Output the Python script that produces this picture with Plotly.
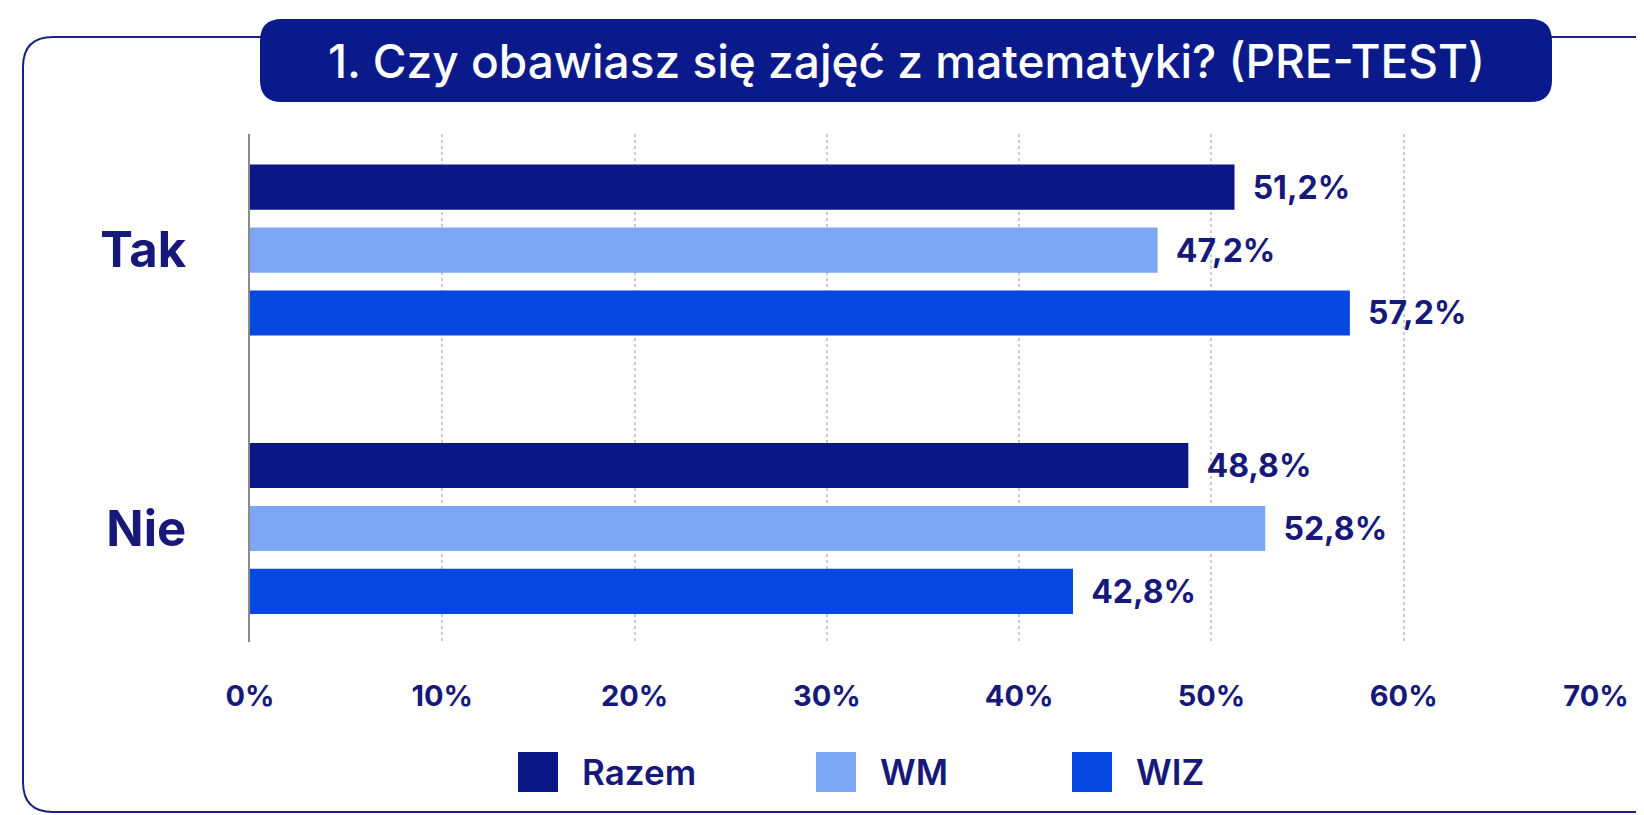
import plotly.graph_objects as go

# data
categories = ["Tak", "Nie"]
series_names = ["Razem", "WM", "WIZ"]
razem = [51.2, 48.8]
wm = [47.2, 52.8]
wiz = [57.2, 42.8]
series_colors = ["#0b1785", "#7da7f5", "#0448e0"]
x_ticks = [0, 10, 20, 30, 40, 50, 60, 70]
x_ticktext = [f"{v}%" for v in x_ticks]
title_text = "1. Czy obawiasz się zajęć z matematyki? (PRE-TEST)"

W, H = 1644, 815
NAVY = "#17197a"
FONT = "Inter"
OFF = 8  # page body margin

# plot area in page pixels
L, R, T, B = 250, 1596, 134, 642


def px_x(px):
    return (px - L) / (R - L)


def px_y(py):
    return (B - py) / (B - T)


def rounded_rect(x0, y0, x1, y1, r):
    # pixel box -> svg path in paper coords
    p = []
    p.append(f"M {px_x(x0 + r)},{px_y(y0)}")
    p.append(f"L {px_x(x1 - r)},{px_y(y0)}")
    p.append(f"Q {px_x(x1)},{px_y(y0)} {px_x(x1)},{px_y(y0 + r)}")
    p.append(f"L {px_x(x1)},{px_y(y1 - r)}")
    p.append(f"Q {px_x(x1)},{px_y(y1)} {px_x(x1 - r)},{px_y(y1)}")
    p.append(f"L {px_x(x0 + r)},{px_y(y1)}")
    p.append(f"Q {px_x(x0)},{px_y(y1)} {px_x(x0)},{px_y(y1 - r)}")
    p.append(f"L {px_x(x0)},{px_y(y0 + r)}")
    p.append(f"Q {px_x(x0)},{px_y(y0)} {px_x(x0 + r)},{px_y(y0)}")
    p.append("Z")
    return " ".join(p)


fig = go.Figure()

for name, vals, col in zip(series_names, [razem, wm, wiz], series_colors):
    fig.add_trace(go.Bar(
        y=categories,
        x=vals,
        name=name,
        orientation="h",
        marker=dict(color=col, line=dict(width=0)),
        texttemplate="  %{x:.1f}%",
        textposition="outside",
        textfont=dict(family=FONT, size=32, color=NAVY, weight=700),
        cliponaxis=False,
        showlegend=False,
    ))

shapes = [
    # outer frame
    dict(type="path", xref="paper", yref="paper",
         path=rounded_rect(23, 37, 1700, 812, 30),
         line=dict(color="#1a2380", width=2), fillcolor="rgba(0,0,0,0)", layer="below"),
    # title pill
    dict(type="path", xref="paper", yref="paper",
         path=rounded_rect(260, 19, 1552, 102, 22),
         line=dict(width=0), fillcolor="#0b1a8a", layer="above"),
]

annotations = [
    dict(text=title_text, xref="paper", yref="paper",
         x=px_x(906), y=px_y(61), xanchor="center", yanchor="middle",
         showarrow=False, font=dict(family=FONT, size=46, color="white", weight=500)),
]

# legend built from series names/colors
legend_x = [518, 816, 1072]
for name, col, lx in zip(series_names, series_colors, legend_x):
    shapes.append(dict(type="rect", xref="paper", yref="paper",
                       x0=px_x(lx), x1=px_x(lx + 40), y0=px_y(752), y1=px_y(792),
                       fillcolor=col, line=dict(width=0)))
    annotations.append(dict(text=name, xref="paper", yref="paper",
                            x=px_x(lx + 62), y=px_y(772), xanchor="left", yanchor="middle",
                            showarrow=False,
                            font=dict(family=FONT, size=35, color=NAVY, weight=600)))

fig.update_layout(
    width=W, height=H,
    margin=dict(l=L - OFF, r=W - R + OFF, t=T - OFF, b=H - B + OFF, autoexpand=False),
    paper_bgcolor="white",
    plot_bgcolor="white",
    barmode="group",
    bargap=0.322,
    bargroupgap=0.283,
    separators=",.",
    showlegend=False,
    shapes=shapes,
    annotations=annotations,
    font=dict(family=FONT, color=NAVY),
)

fig.update_xaxes(
    range=[0, 70],
    tickvals=x_ticks,
    ticktext=x_ticktext,
    showgrid=True,
    gridcolor="#cccccc",
    gridwidth=2,
    griddash="dot",
    zeroline=False,
    showline=False,
    ticklabelstandoff=34,
    tickfont=dict(family=FONT, size=29, color=NAVY, weight=700),
)

fig.update_yaxes(
    range=[1.408, -0.417],
    showline=True,
    linecolor="#8a8a8a",
    linewidth=2,
    showgrid=False,
    ticklabelstandoff=52,
    tickfont=dict(family=FONT, size=49, color=NAVY, weight=700),
)

fig.write_html("out.html")
